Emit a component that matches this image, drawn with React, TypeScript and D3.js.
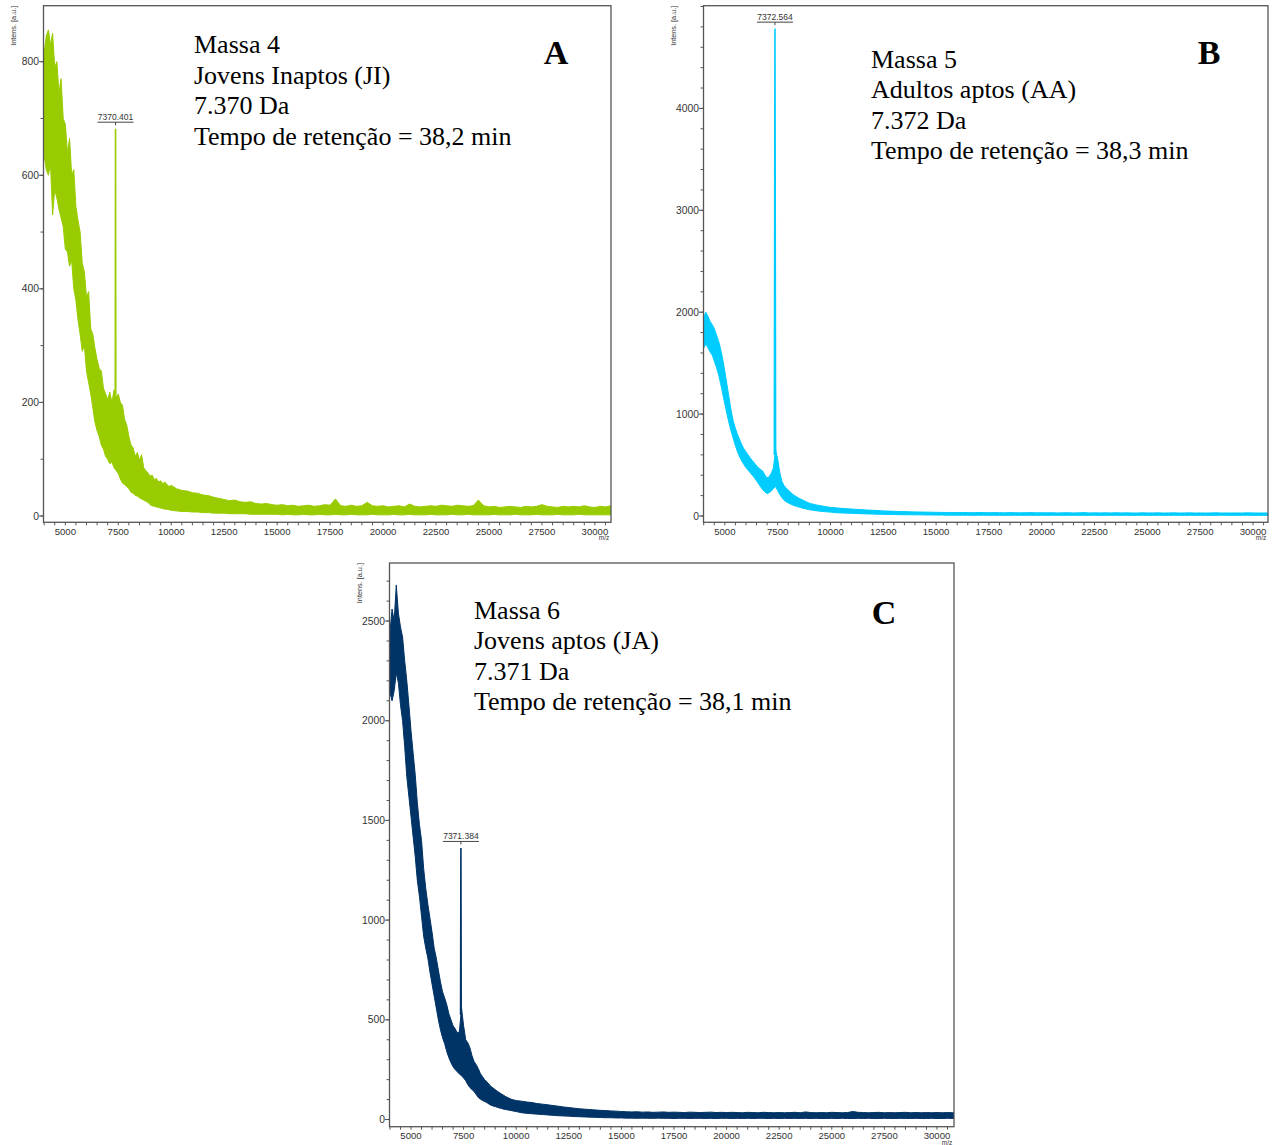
import React from 'react';
import * as d3 from 'd3';

// ---------- DATA ----------
const mzGrid = [3980, 4100, 4200, 4300, 4400, 4500, 4600, 4700, 4800, 4900, 5000, 5100, 5200, 5300, 5400, 5500, 5600, 5700, 5800, 5900,
  6000, 6100, 6200, 6300, 6400, 6500, 6600, 6700, 6800, 6900, 7000, 7100, 7200, 7300, 7400, 7500, 7600, 7700, 7800, 7900,
  8000, 8100, 8200, 8300, 8400, 8500, 8600, 8700, 8800, 8900, 9000, 9100, 9200, 9300, 9400, 9500, 9600, 9700, 9800, 9900, 10000,
  10250, 10500, 10750, 11000, 11250, 11500, 11750, 12000, 12250, 12500, 12750, 13000, 13250, 13500, 13750, 14000, 14250, 14500, 14750, 15000,
  15250, 15500, 15750, 16000, 16250, 16500, 16750, 17000, 17250, 17500, 17750, 18000, 18250, 18500, 18750, 19000, 19250, 19500, 19750, 20000,
  20250, 20500, 20750, 21000, 21250, 21500, 21750, 22000, 22250, 22500, 22750, 23000, 23250, 23500, 23750, 24000, 24250, 24500, 24750, 25000,
  25250, 25500, 25750, 26000, 26250, 26500, 26750, 27000, 27250, 27500, 27750, 28000, 28250, 28500, 28750, 29000, 29250, 29500, 29750, 30000,
  30250, 30500, 30750, 30810];

// Panel A (Massa 4, JI) – upper / lower envelope of the noisy trace
const hiA = [810, 845, 856, 830, 850, 790, 800, 745, 770, 700, 690, 640, 665, 600, 610, 545, 520, 500, 445, 430,
  385, 395, 330, 320, 295, 275, 260, 255, 225, 215, 205, 218, 200, 222, 210, 215, 200, 195, 170, 160,
  140, 125, 120, 105, 112, 98, 108, 85, 80, 76, 70, 72, 64, 66, 60, 62, 57, 60, 55, 52, 54,
  48, 45, 44, 41, 40, 37, 36, 33, 31, 29, 27, 28, 25, 24, 25, 22, 21, 22, 20, 19,
  20, 18, 19, 17, 18, 19, 17, 18, 20, 19, 30, 18, 17, 19, 17, 18, 24, 18, 17, 18,
  16, 17, 18, 16, 21, 17, 16, 17, 18, 17, 19, 18, 17, 19, 18, 17, 18, 28, 18, 16,
  17, 15, 16, 17, 16, 15, 17, 16, 17, 20, 17, 16, 15, 17, 16, 17, 16, 18, 16, 15,
  17, 16, 18, 16];
const loA = [640, 610, 600, 620, 530, 575, 560, 540, 525, 510, 470, 465, 440, 450, 400, 380, 345, 320, 290, 300,
  255, 235, 215, 190, 165, 150, 140, 125, 118, 105, 100, 92, 95, 85, 80, 75, 65, 58, 55, 52,
  48, 42, 40, 36, 35, 32, 30, 28, 26, 24, 20, 18, 17, 16, 15, 14, 13, 12, 12, 11, 10,
  9, 8, 8, 7, 7, 6, 6, 5, 5, 5, 4, 4, 4, 4, 3, 3, 3, 3, 3, 3,
  2, 3, 2, 2, 3, 2, 2, 3, 2, 2, 3, 2, 2, 3, 2, 2, 2, 3, 2, 2,
  2, 3, 2, 2, 3, 2, 2, 2, 3, 2, 2, 2, 3, 2, 2, 3, 2, 2, 2, 2,
  3, 2, 2, 2, 3, 2, 2, 2, 3, 2, 2, 2, 3, 2, 2, 2, 3, 2, 2, 2,
  2, 2, 2, 2];

// Panel B (Massa 5, AA)
const hiB = [1940, 2000, 1960, 1910, 1880, 1840, 1780, 1720, 1640, 1540, 1420, 1290, 1160, 1030, 930, 860, 800, 750, 700, 660,
  630, 600, 570, 545, 520, 495, 470, 455, 440, 400, 375, 385, 420, 470, 650, 560, 430, 340, 300, 275,
  255, 235, 215, 200, 188, 175, 165, 155, 145, 135, 126, 120, 115, 110, 106, 102, 98, 95, 91, 88, 85,
  80, 75, 72, 68, 65, 62, 58, 56, 53, 50, 48, 46, 44, 43, 41, 40, 39, 38, 37, 36,
  35, 34, 35, 33, 34, 33, 32, 34, 33, 32, 33, 32, 31, 33, 32, 31, 32, 33, 31, 32,
  31, 32, 30, 31, 32, 30, 31, 33, 30, 31, 30, 31, 30, 32, 30, 31, 30, 29, 31, 30,
  30, 31, 29, 30, 31, 29, 30, 31, 29, 30, 29, 30, 31, 29, 30, 29, 30, 29, 31, 30,
  29, 30, 29, 30];
const loB = [1640, 1690, 1650, 1610, 1580, 1520, 1460, 1390, 1300, 1200, 1100, 1000, 910, 830, 760, 690, 630, 580, 540, 505,
  475, 450, 425, 400, 375, 345, 315, 285, 255, 235, 220, 228, 245, 270, 290, 250, 210, 180, 155, 140,
  128, 118, 108, 100, 94, 88, 82, 76, 71, 66, 61, 58, 55, 52, 49, 47, 45, 43, 41, 39, 38,
  32, 30, 28, 26, 24, 22, 20, 19, 17, 16, 15, 14, 13, 12, 12, 11, 11, 10, 10, 9,
  9, 8, 8, 8, 7, 8, 7, 7, 8, 7, 7, 7, 6, 7, 7, 6, 7, 7, 6, 7,
  6, 7, 7, 6, 7, 6, 6, 7, 6, 7, 6, 6, 7, 6, 6, 7, 6, 6, 7, 6,
  6, 7, 6, 6, 6, 7, 6, 6, 6, 7, 6, 6, 6, 7, 6, 6, 6, 6, 7, 6,
  6, 6, 6, 6];

// Panel C (Massa 6, JA)
const hiC = [2420, 2560, 2500, 2680, 2540, 2470, 2420, 2300, 2200, 2080, 1950, 1840, 1730, 1590, 1480, 1400, 1260, 1160, 1080, 1010,
  940, 860, 810, 750, 690, 640, 610, 575, 530, 500, 470, 455, 435, 440, 560, 470, 400, 385, 360, 320,
  290, 275, 255, 230, 215, 200, 190, 178, 165, 158, 150, 142, 135, 128, 122, 115, 110, 105, 100, 98, 95,
  92, 88, 85, 80, 77, 74, 70, 67, 63, 60, 57, 54, 52, 50, 48, 46, 45, 43, 42, 40,
  39, 38, 39, 37, 38, 36, 37, 38, 36, 37, 36, 35, 37, 36, 35, 36, 37, 35, 36, 35,
  36, 35, 34, 36, 35, 34, 36, 35, 34, 35, 34, 35, 36, 34, 38, 35, 34, 35, 34, 36,
  35, 34, 35, 40, 36, 35, 34, 35, 36, 34, 35, 34, 35, 36, 34, 35, 34, 35, 34, 35,
  34, 35, 34, 35];
const loC = [2150, 2100, 2150, 2240, 2190, 2080, 2000, 1870, 1720, 1620, 1520, 1420, 1320, 1200, 1120, 1020, 920, 860, 810, 740,
  680, 620, 560, 500, 450, 410, 380, 340, 310, 285, 265, 250, 240, 228, 220, 208, 195, 175, 160, 150,
  140, 125, 110, 102, 95, 90, 85, 78, 72, 68, 65, 61, 58, 55, 52, 50, 48, 46, 44, 42, 40,
  34, 31, 29, 27, 25, 23, 21, 19, 18, 17, 15, 14, 13, 12, 11, 10, 9, 9, 8, 8,
  7, 7, 6, 7, 6, 6, 7, 6, 6, 5, 6, 6, 5, 6, 6, 5, 6, 5, 6, 6,
  5, 6, 5, 6, 5, 6, 6, 5, 6, 5, 6, 5, 6, 5, 6, 5, 6, 5, 5, 6,
  5, 6, 5, 5, 6, 5, 6, 5, 5, 6, 5, 5, 6, 5, 5, 6, 5, 5, 6, 5,
  5, 6, 5, 5];

const peakMz = [7370.401, 7372.564, 7371.384];
const peakIntensity = [682, 4783, 1362];
const peakLabels = ['7370.401', '7372.564', '7371.384'];

const xTickValues = [5000, 7500, 10000, 12500, 15000, 17500, 20000, 22500, 25000, 27500, 30000];
const yTicksA = [0, 200, 400, 600, 800];
const yTicksB = [0, 1000, 2000, 3000, 4000];
const yTicksC = [0, 500, 1000, 1500, 2000, 2500];

const textA = ['Massa 4', 'Jovens Inaptos (JI)', '7.370 Da', 'Tempo de retenção = 38,2 min'];
const textB = ['Massa 5', 'Adultos aptos (AA)', '7.372 Da', 'Tempo de retenção = 38,3 min'];
const textC = ['Massa 6', 'Jovens aptos (JA)', '7.371 Da', 'Tempo de retenção = 38,1 min'];
const letters = ['A', 'B', 'C'];
const colors = ['#99cc00', '#00ccff', '#003366'];

// ---------- PANEL ----------
type PanelProps = {
  id: string;
  box: [number, number, number, number];
  xDom: [number, number];
  yDom: [number, number];
  hi: number[];
  lo: number[];
  color: string;
  yTicks: number[];
  yMinor: number;
  peakIdx: number;
  peakHalf: number;
  lines: string[];
  textX: number;
  textY: number;
  letter: string;
  letterX: number;
  letterY: number;
};

const SANS = "'Liberation Sans', Arial, sans-serif";
const SERIF = "'Liberation Serif', 'Times New Roman', serif";

function Panel(p: PanelProps) {
  const [L, T, R, B] = p.box;
  const x = d3.scaleLinear().domain(p.xDom).range([L, R]);
  const y = d3.scaleLinear().domain(p.yDom).range([B, T]);
  const pts = mzGrid.map((mz, i) => ({ mz, hi: p.hi[i], lo: p.lo[i] }));
  const area = d3.area<{ mz: number; hi: number; lo: number }>()
    .x(d => x(d.mz)).y0(d => y(d.lo)).y1(d => y(d.hi)).curve(d3.curveLinear);
  const pm = peakMz[p.peakIdx];
  const ph = peakIntensity[p.peakIdx];
  const baseHi = d3.scaleLinear().domain(mzGrid).range(p.hi)(pm);
  const peakPath = d3.line<[number, number]>().x(d => x(d[0])).y(d => y(d[1]))([
    [pm - p.peakHalf, baseHi], [pm, ph], [pm + p.peakHalf, baseHi],
  ]);
  const minorX = d3.range(4000, 30801, 500);
  const minorY = d3.range(0, p.yDom[1], p.yMinor);
  const axisCol = '#555';
  const lab = '#333';
  const px = x(pm);
  const pTop = y(ph);
  return (
    <g>
      <defs>
        <clipPath id={'clip' + p.id}>
          <rect x={L} y={T} width={R - L} height={B - T} />
        </clipPath>
      </defs>
      <g clipPath={`url(#clip${p.id})`}>
        <path d={area(pts) || ''} fill={p.color} stroke={p.color} strokeWidth={1} strokeLinejoin="miter" />
        <path d={peakPath || ''} fill={p.color} stroke={p.color} strokeWidth={1.6} />
      </g>
      <text x={px} y={pTop - 9} fontFamily={SANS} fontSize={8.5} fill={lab} textAnchor="middle">{peakLabels[p.peakIdx]}</text>
      <line x1={px - 18} x2={px + 18} y1={pTop - 6.5} y2={pTop - 6.5} stroke="#444" strokeWidth={1} />
      <line x1={px} x2={px} y1={pTop - 6.5} y2={pTop - 3.5} stroke="#444" strokeWidth={1} />
      <rect x={L} y={T} width={R - L} height={B - T} fill="none" stroke={axisCol} strokeWidth={1.3} />
      {minorX.filter(v => v >= p.xDom[0] - 1 && v <= p.xDom[1]).map(v => (
        <line key={'xm' + v} x1={x(v)} x2={x(v)} y1={B} y2={B + 3} stroke={axisCol} strokeWidth={1} />
      ))}
      {xTickValues.map(v => (
        <text key={'xt' + v} x={x(v)} y={B + 12.5} fontFamily={SANS} fontSize={9.6} fill={lab} textAnchor="middle">{v}</text>
      ))}
      <text x={R - 7} y={B + 18} fontFamily={SANS} fontSize={6.5} fill={lab} textAnchor="middle">m/z</text>
      {minorY.map(v => (
        <line key={'ym' + v} x1={L - 3} x2={L} y1={y(v)} y2={y(v)} stroke={axisCol} strokeWidth={1} />
      ))}
      {p.yTicks.map(v => (
        <g key={'yt' + v}>
          <line x1={L - 4.5} x2={L} y1={y(v)} y2={y(v)} stroke={axisCol} strokeWidth={1} />
          <text x={L - 4.5} y={y(v) + 3.6} fontFamily={SANS} fontSize={10.3} fill={lab} textAnchor="end">{v}</text>
        </g>
      ))}
      <text transform={`translate(${L - 27.5},${T}) rotate(-90)`} fontFamily={SANS} fontSize={7.3} fill={lab} textAnchor="end">Intens. [a.u.]</text>
      {p.lines.map((s, i) => (
        <text key={'ln' + i} x={p.textX} y={p.textY + i * 30.4} fontFamily={SERIF} fontSize={26} fill="#000">{s}</text>
      ))}
      <text x={p.letterX} y={p.letterY} fontFamily={SERIF} fontSize={34} fontWeight="bold" fill="#000" textAnchor="middle">{p.letter}</text>
    </g>
  );
}

export default function App() {
  return (
    <svg width={1272} height={1145} viewBox="0 0 1272 1145" style={{ position: 'absolute', left: 0, top: 0, background: '#fff' }}>
      <rect x={0} y={0} width={1272} height={1145} fill="#fff" />
      <Panel id="A" box={[43.5, 5.7, 611, 522.3]} xDom={[3970, 30760]} yDom={[-11.1, 898.6]}
        hi={hiA} lo={loA} color={colors[0]} yTicks={yTicksA} yMinor={100} peakIdx={0} peakHalf={12}
        lines={textA} textX={194} textY={53.3} letter={letters[0]} letterX={556} letterY={64} />
      <Panel id="B" box={[703.5, 5.7, 1268, 522.3]} xDom={[3990, 30710]} yDom={[-62, 5008]}
        hi={hiB} lo={loB} color={colors[1]} yTicks={yTicksB} yMinor={200} peakIdx={1} peakHalf={30}
        lines={textB} textX={871} textY={68} letter={letters[1]} letterX={1209} letterY={64} />
      <Panel id="C" box={[389.5, 563, 954, 1126.7]} xDom={[3978, 30808]} yDom={[-36, 2791]}
        hi={hiC} lo={loC} color={colors[2]} yTicks={yTicksC} yMinor={100} peakIdx={2} peakHalf={15}
        lines={textC} textX={474} textY={619} letter={letters[2]} letterX={884} letterY={624} />
    </svg>
  );
}
